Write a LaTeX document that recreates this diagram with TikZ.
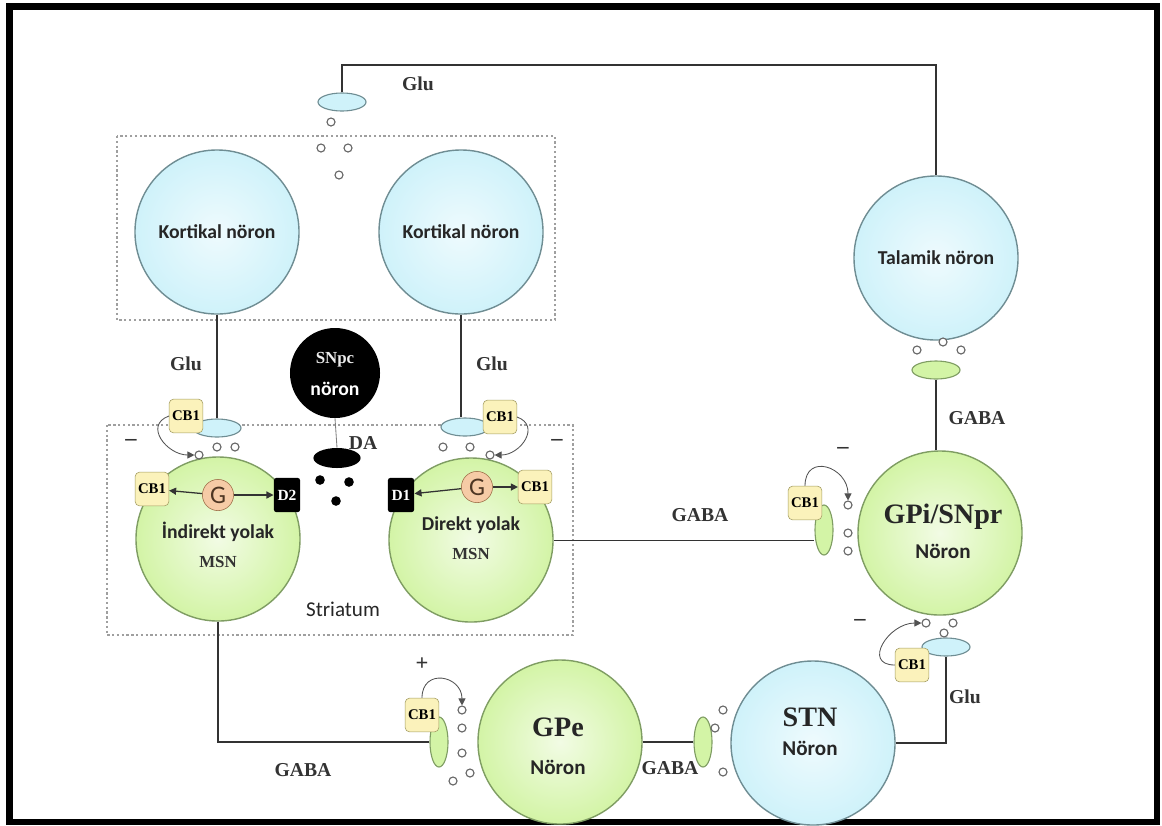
\documentclass[tikz,border=0pt]{standalone}
\usepackage{fontspec}
\setmainfont{Liberation Serif}
\setsansfont{Carlito}
\usetikzlibrary{shapes.geometric, arrows.meta, positioning, calc}
\definecolor{msngreen}{HTML}{D3F4A6}
\definecolor{greenline}{HTML}{7F9D63}
\definecolor{cellblue}{HTML}{CFF2FA}
\definecolor{blueline}{HTML}{6F8D93}
\definecolor{cbyellow}{HTML}{FBF2BB}
\definecolor{cbline}{HTML}{A39C62}
\definecolor{gpeach}{HTML}{F6CBA6}
\definecolor{gline}{HTML}{9C6C46}
\definecolor{dark}{HTML}{333333}
\tikzstyle{greencell} = [circle, draw=greenline, line width=1pt, inner sep=0pt,
                         minimum size=4.1cm, inner color=msngreen!30, outer color=msngreen]
\tikzstyle{bluecell}  = [circle, draw=blueline, line width=1pt, inner sep=0pt,
                         minimum size=4.1cm, inner color=cellblue!35, outer color=cellblue]
\tikzstyle{cbbox}     = [rectangle, rounded corners=3pt, draw=cbline, fill=cbyellow,
                         minimum width=0.84cm, minimum height=0.84cm, inner sep=0pt,
                         font=\fontsize{10.5}{10.5}\selectfont\bfseries]
\tikzstyle{dbox}      = [rectangle, rounded corners=2pt, fill=black, text=white,
                         minimum width=0.66cm, minimum height=0.86cm, inner sep=0pt,
                         font=\fontsize{11}{11}\selectfont\bfseries]
\tikzstyle{gnode}     = [circle, draw=gline, fill=gpeach, minimum size=0.78cm,
                         inner sep=0pt, text=gline!50!black,
                         font=\sffamily\fontsize{18}{18}\selectfont]
\tikzstyle{hterm}     = [ellipse, draw=blueline, line width=0.8pt, fill=cellblue,
                         minimum width=1.2cm, minimum height=0.45cm, inner sep=0pt]
\tikzstyle{vterm}     = [ellipse, draw=greenline, line width=0.8pt, fill=msngreen,
                         minimum width=0.45cm, minimum height=1.25cm, inner sep=0pt]
\tikzstyle{ves}       = [circle, draw=gray!80!black, fill=white, line width=0.8pt,
                         minimum size=0.2cm, inner sep=0pt]
\tikzstyle{dadot}     = [circle, fill=black, minimum size=0.24cm, inner sep=0pt]
\tikzstyle{wire}      = [line width=1.4pt, color=dark]
\tikzstyle{garrow}    = [-{Triangle[length=5pt,width=5pt]}, line width=0.9pt, color=dark]
\tikzstyle{fbarrow}   = [-{Triangle[length=5pt,width=5pt]}, line width=0.6pt, color=dark!85]
\tikzstyle{region}    = [draw=gray!75, line width=1.3pt, dash pattern=on 1.6pt off 1.8pt]
\tikzstyle{lbl}       = [font=\fontsize{14}{14}\selectfont\bfseries, text=dark]
\tikzstyle{celltext}  = [font=\sffamily\bfseries\fontsize{14}{14}\selectfont, text=black!85]
\tikzstyle{nrntext}   = [font=\sffamily\bfseries\fontsize{15}{15}\selectfont, text=black!85]
\tikzstyle{bigtext}   = [font=\fontsize{20}{20}\selectfont\bfseries, text=black!85]
\tikzstyle{msntext}   = [font=\fontsize{12}{12}\selectfont\bfseries, text=dark]
\tikzstyle{sign}      = [font=\fontsize{16}{16}\selectfont\bfseries, text=dark]

\begin{document}
\begin{tikzpicture}[x=0.025cm, y=-0.025cm]
  \useasboundingbox (0,0) rectangle (1162,825);
  \draw[line width=0.17cm] (9.5,6.5) rectangle (1157,822);

  %% Regions
  \draw[region] (117,136) rectangle (555,320);
  \draw[region] (107,425) rectangle (573,635);

  %% Cortex and thalamus
  \node[bluecell, celltext] (kortL) at (217,232) {Kortikal nöron};
  \node[bluecell, celltext] (kortR) at (461,232) {Kortikal nöron};
  \node[bluecell, celltext] (talamik) at (936,258) {Talamik nöron};

  %% Thalamo-cortical terminal
  \node[hterm] (thterm) at (342,102) {};
  \coordinate (topy) at (0,65);
  \draw[wire] (thterm.north) |- (talamik.north |- topy) -- (talamik.north);
  \node[lbl] (gluT) at (418,84) {Glu};
  \foreach \vx/\vy in {331/122, 321/148, 348/148, 339/175}
    \node[ves] at (\vx,\vy) {};

  %% Striatum cells
  \node[greencell] (indirekt) at (218,539) {};
  \node[greencell] (direkt) at (471,540) {};
  \node[celltext] (indtxt) at (218,532) {İndirekt yolak};
  \node[msntext, below=0.12cm of indtxt] (indmsn) {MSN};
  \node[celltext] (dirtxt) at (471,525) {Direkt yolak};
  \node[msntext, below=0.12cm of dirtxt] (dirmsn) {MSN};
  \node[celltext, font=\sffamily\fontsize{15}{15}\selectfont] (striatum) at (343,609) {Striatum};

  %% Cortico-striatal terminals
  \node[hterm] (termL) at (217,428) {};
  \node[hterm] (termR) at (465,427) {};
  \draw[wire] (kortL.south) -- (termL.north);
  \draw[wire] (kortR.south) -- (kortR.south |- termR.north);
  \node[lbl] (gluL) at (186,364) {Glu};
  \node[lbl] (gluR) at (492,364) {Glu};
  \node[cbbox] (cbL) at (186,416) {CB1};
  \node[cbbox] (cbR) at (500,417) {CB1};
  \node[ves] (vL) at (199,455) {};
  \node[ves] at (217,447) {};
  \node[ves] at (235,447) {};
  \node[ves] at (443,447) {};
  \node[ves] at (470,447) {};
  \node[ves] (vR) at (490,455) {};
  \draw[fbarrow] (cbL.west) to[out=200, in=180, looseness=1.5] (vL.west);
  \draw[fbarrow] (cbR.east) to[out=-20, in=0, looseness=1.5] (vR.east);
  \node[sign] at (131,442) {--};
  \node[sign] at (557,442) {--};

  %% Receptors in MSNs
  \node[cbbox] (cbIL) at (152,489) {CB1};
  \node[gnode] (gI) at (218,495) {G};
  \node[dbox] (d2) at (287,495) {D2};
  \draw[garrow] (gI) -- (cbIL);
  \draw[garrow] (gI) -- (d2);
  \node[dbox] (d1) at (401,495) {D1};
  \node[gnode] (gD) at (477,487) {G};
  \node[cbbox] (cbDR) at (535,487) {CB1};
  \draw[garrow] (gD) -- (d1);
  \draw[garrow] (gD) -- (cbDR);

  %% SNpc
  \node[circle, fill=black, minimum size=2.25cm] (snpc) at (335,373) {};
  \node[font=\fontsize{12}{12}\selectfont\bfseries, text=gray!15] at (335,360) {SNpc};
  \node[font=\sffamily\bfseries\fontsize{14}{14}\selectfont, text=white] at (335,389) {nöron};
  \node[ellipse, fill=black, minimum width=1.18cm, minimum height=0.5cm] (daterm) at (337,458) {};
  \draw[gray, line width=0.6pt] (snpc.south) -- (daterm.north);
  \node[lbl] (da) at (363,443) {DA};
  \node[dadot] at (320,480) {};
  \node[dadot] at (349,482) {};
  \node[dadot] at (336,501) {};

  %% GPi / SNpr
  \node[hterm, draw=greenline, fill=msngreen] (gpiterm) at (936,370) {};
  \node[greencell] (gpi) at (940,533) {};
  \node[bigtext] at (943,517) {GPi/SNpr};
  \node[nrntext] at (943,551) {Nöron};
  \draw[wire] (gpiterm.south) -- (gpiterm.south |- gpi.north);
  \foreach \vx/\vy in {917/350, 943/342, 961/350}
    \node[ves] at (\vx,\vy) {};
  \node[lbl] (gabaT) at (977,418) {GABA};

  \node[vterm] (gpiv) at (824,530) {};
  \draw[dark, line width=0.7pt] (direkt.east) -- (gpiv.west |- direkt.east);
  \node[lbl] (gabaD) at (700,515) {GABA};
  \node[cbbox] (cbG) at (805,503) {CB1};
  \node[ves] (vG) at (848,505) {};
  \node[ves] at (848,533) {};
  \node[ves] at (848,551) {};
  \draw[fbarrow] (cbG.north) to[out=90, in=90, looseness=1.9] (vG.north);
  \node[sign] at (843,450) {--};

  %% GPe
  \node[greencell] (gpe) at (560,742) {};
  \node[bigtext] at (558,727) {GPe};
  \node[nrntext] at (558,767) {Nöron};
  \node[vterm] (gpev) at (439,742) {};
  \draw[wire] (indirekt.south) |- (gpev.west);
  \node[lbl] (gabaI) at (303,770) {GABA};
  \node[cbbox] (cbP) at (422,715) {CB1};
  \node[ves] (vP) at (462,710) {};
  \foreach \vx/\vy in {462/728, 462/753, 470/773, 453/781}
    \node[ves] at (\vx,\vy) {};
  \draw[fbarrow] (cbP.north) to[out=90, in=90, looseness=1.9] (vP.north);
  \node[sign] at (422,664) {+};

  %% STN
  \node[bluecell] (stn) at (813,743) {};
  \node[bigtext] at (810,717) {STN};
  \node[nrntext] at (810,748) {Nöron};
  \node[vterm] (stnv) at (703,742) {};
  \draw[wire] (gpe.east) -- (stnv.west);
  \node[lbl] (gabaP) at (670,768) {GABA};
  \foreach \vx/\vy in {723/710, 715/728, 723/772}
    \node[ves] at (\vx,\vy) {};

  %% STN to GPi
  \node[hterm] (stnterm) at (946,647) {};
  \draw[wire] (stn.east) -| (stnterm.south);
  \node[lbl] (gluS) at (965,697) {Glu};
  \node[cbbox] (cbS) at (912,665) {CB1};
  \node[ves] (vS) at (926,623) {};
  \node[ves] at (953,623) {};
  \node[ves] at (944,633) {};
  \draw[fbarrow] (cbS.west) to[out=180, in=180, looseness=1.7] (vS.west);
  \node[sign] at (860,622) {--};

\end{tikzpicture}
\end{document}
